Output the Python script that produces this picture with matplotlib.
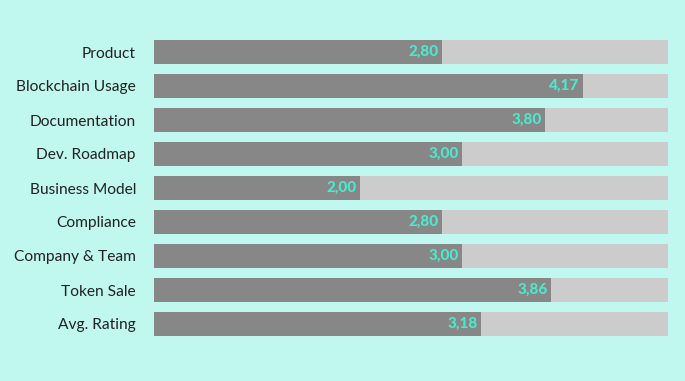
import matplotlib.pyplot as plt

categories = ["Product", "Blockchain Usage", "Documentation", "Dev. Roadmap",
              "Business Model", "Compliance", "Company & Team", "Token Sale",
              "Avg. Rating"]
values = [2.80, 4.17, 3.80, 3.00, 2.00, 2.80, 3.00, 3.86, 3.18]
max_value = 5

bg = "#c0f7ee"
fig = plt.figure(figsize=(6.85, 3.81), dpi=100, facecolor=bg)
ax = fig.add_axes([154 / 685, 40 / 381, 514 / 685, 306 / 381])
ax.set_facecolor(bg)

y = list(range(len(categories)))
ax.barh(y, [max_value] * len(values), height=0.7, color="#cccccc")
ax.barh(y, values, height=0.7, color="#878787")

for yi, v in zip(y, values):
    ax.text(v - 0.03, yi, f"{v:.2f}".replace(".", ","), ha="right", va="center",
            color="#4de8cc", fontsize=11, fontweight="black", family="Lato")

ax.set_xlim(0, max_value)
ax.set_ylim(len(categories) - 0.5, -0.5)
ax.set_yticks(y)
ax.set_yticklabels(categories, fontsize=11.2, family="Lato", color="#222222")
ax.set_xticks([])
ax.tick_params(axis="y", length=0, pad=13)
for s in ax.spines.values():
    s.set_visible(False)

fig.savefig("out.png", dpi=100, facecolor=bg)
